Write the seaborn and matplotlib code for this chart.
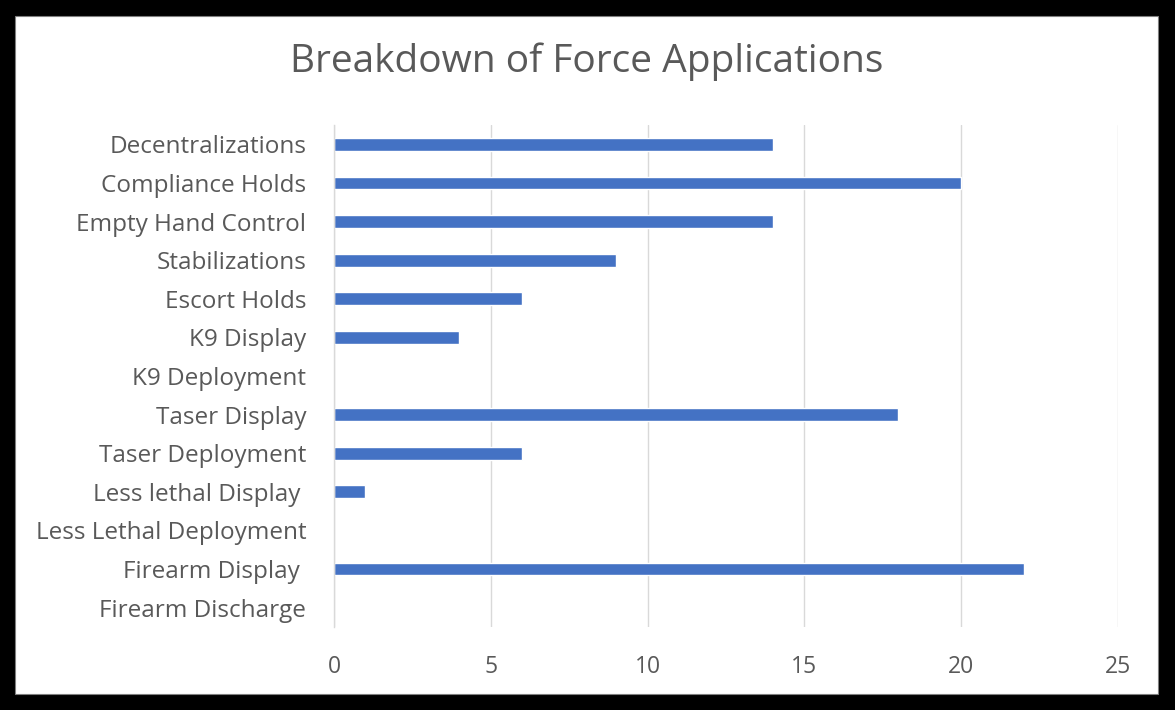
import matplotlib
matplotlib.use("Agg")
import matplotlib.pyplot as plt
from matplotlib.patches import Rectangle
import seaborn as sns
import pandas as pd

categories = [
    "Decentralizations",
    "Compliance Holds",
    "Empty Hand Control",
    "Stabilizations",
    "Escort Holds",
    "K9 Display",
    "K9 Deployment",
    "Taser Display",
    "Taser Deployment",
    "Less lethal Display ",
    "Less Lethal Deployment",
    "Firearm Display ",
    "Firearm Discharge",
]
counts = [14, 20, 14, 9, 6, 4, 0, 18, 6, 1, 0, 22, 0]
x_ticks = [0, 5, 10, 15, 20, 25]

df = pd.DataFrame({"Application": categories, "Count": counts})

sns.set_theme(style="white")
plt.rcParams["font.family"] = ["Open Sans", "DejaVu Sans"]

text_color = "#595959"
bar_color = "#4472C4"
grid_color = "#D9D9D9"

fig = plt.figure(figsize=(11.75, 7.1), dpi=100)
fig.patch.set_facecolor("black")
# white chart area inside the black frame
fig.add_artist(Rectangle((15 / 1175, 16 / 710), (1158 - 15) / 1175, (694 - 16) / 710,
                         transform=fig.transFigure, facecolor="white",
                         edgecolor="#7f7f7f", linewidth=0.8, zorder=0))

ax = fig.add_axes([334 / 1175, 1 - 627 / 710, (1118 - 334) / 1175, (627 - 125) / 710])
ax.set_facecolor("none")

sns.barplot(data=df, x="Count", y="Application", color=bar_color,
            width=0.33, saturation=1, ax=ax, zorder=3)

ax.set_xlim(0, 25)
ax.set_xticks(x_ticks)
ax.set_xlabel("")
ax.set_ylabel("")
ax.grid(axis="x", color=grid_color, linewidth=1.0, zorder=0)
ax.grid(axis="y", visible=False)

for side in ["top", "right", "bottom"]:
    ax.spines[side].set_visible(False)
ax.spines["left"].set_color(grid_color)
ax.spines["left"].set_linewidth(1.0)
ax.spines["left"].set_zorder(4)

ax.tick_params(axis="y", length=0, pad=20, labelsize=17.5, labelcolor=text_color)
ax.tick_params(axis="x", length=0, pad=20, labelsize=16.5, labelcolor=text_color)

fig.text(587 / 1175, 1 - 62 / 710, "Breakdown of Force Applications",
         ha="center", va="center", fontsize=28, color=text_color)

fig.savefig("out.png", dpi=100, facecolor=fig.get_facecolor())
